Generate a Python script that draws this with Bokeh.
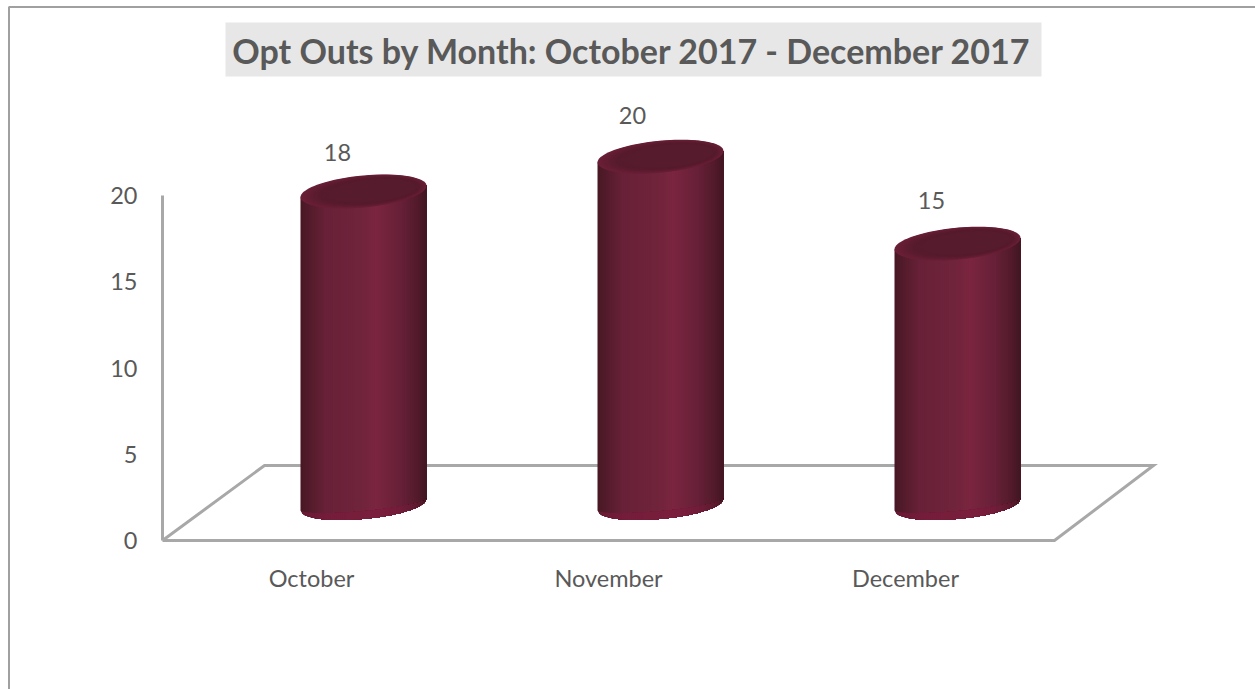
import numpy as np
from bokeh.core.properties import value
from bokeh.embed import file_html
from bokeh.models import ColumnDataSource, Range1d
from bokeh.plotting import figure
from bokeh.resources import INLINE

months = ["October", "November", "December"]
opt_outs = [18, 20, 15]
y_ticks = [0, 5, 10, 15, 20]
title_text = "Opt Outs by Month: October 2017 - December 2017"

# Scales: one category step and one value unit, in screen pixels.
W, H = 1255, 689
PX_CAT = 297.0
PX_VAL = 17.25
X0_PX, Y0_PX = 363.0, 540.0


def dx(px):
    return px / PX_CAT


def dy(px):
    return px / PX_VAL


def sx(px):
    return (px - X0_PX) / PX_CAT


def sy(px):
    return (Y0_PX - px) / PX_VAL


p = figure(
    width=W, height=H, output_backend="svg", toolbar_location=None,
    x_range=Range1d(sx(0), sx(W)), y_range=Range1d(sy(H), sy(0)),
    min_border=0, outline_line_color=None, background_fill_color="white",
    border_fill_color="white",
)
p.axis.visible = False
p.grid.visible = False

FONT = value("Lato")
INK = "#595959"
RULE = "#a8a8a8"
LABEL_SIZE = "23.5px"

# Outer frame: only the top and left edges are visible.
p.line([sx(8.5), sx(8.5), sx(W)], [sy(H), sy(6.5), sy(6.5)], line_color="#a0a0a0", line_width=2)

# Title on its grey band.
p.quad(left=[sx(225)], right=[sx(1041)], bottom=[sy(76)], top=[sy(22)],
       fill_color="#e7e7e7", line_color=None)
p.text(x=[sx(631.5)], y=[sy(50)], text=[title_text], text_font=FONT, text_font_style="bold",
       text_font_size="34px", text_color=INK, text_align="center", text_baseline="middle")

# Value axis and the slanted floor of the chart box.
p.line([sx(162), sx(162)], [sy(195), 0], line_color=RULE, line_width=3)
floor_x = [sx(162), sx(1054), sx(1153), sx(264), sx(162)]
floor_y = [0, 0, sy(465), sy(465), 0]
p.line(floor_x, floor_y, line_color=RULE, line_width=3, line_join="miter")

# Axis labels.
p.text(x=[sx(137)] * len(y_ticks), y=y_ticks, text=[str(t) for t in y_ticks], text_font=FONT,
       text_font_size=LABEL_SIZE, text_color=INK, text_align="right", text_baseline="middle")
p.text(x=[i - dx(52) for i in range(len(months))], y=[sy(577)] * len(months), text=months,
       text_font=FONT, text_font_size=LABEL_SIZE, text_color=INK, text_align="center",
       text_baseline="middle")

# Cylinder geometry, in pixels, projected onto the data scales.
HALF_W = 63.0
MINOR = 14.5
TOP_MINOR = 16.0
SKEW = 0.09
BASE_LIFT = 36.0
DEPTH = 17.39 / PX_VAL

pos = np.array([0.0, 0.2, 0.48, 0.6, 0.8, 0.93, 1.0])
shade = np.array([
    [0x48, 0x18, 0x24], [0x68, 0x21, 0x38], [0x70, 0x24, 0x3b], [0x7b, 0x25, 0x40],
    [0x66, 0x20, 0x37], [0x52, 0x1a, 0x2b], [0x40, 0x16, 0x21],
], dtype=float)
RIM_RED = [0x7c, 0x1a, 0x3c]


def to_hex(rgb):
    return "#%02x%02x%02x" % tuple(int(round(c)) for c in rgb)


def body_color(t):
    return [np.interp(t, pos, shade[:, k]) for k in range(3)]


def mix(a, b, f):
    return [a[k] * (1 - f) + b[k] * f for k in range(3)]


def arc(u, scale=1.0):
    return scale * MINOR * np.sqrt(np.clip(1 - (u / HALF_W) ** 2, 0, 1))


xs, ys, cols = [], [], []
edges = np.linspace(-HALF_W, HALF_W, 64)
for i, v in enumerate(opt_outs):
    base = dy(BASE_LIFT)
    top = base + v * DEPTH

    # Each strip runs from its left edge to the far side, so the next one paints over it
    # and no background can show between neighbouring shades.
    for k in range(len(edges) - 1):
        u = edges[k:]
        t = (edges[k] + 1.0 + HALF_W) / (2 * HALF_W)
        low = base + dy(SKEW * u) - dy(arc(u))
        high = top + dy(SKEW * u)
        xs.append((i + dx(u)).tolist() + (i + dx(u[::-1])).tolist())
        ys.append(low.tolist() + high[::-1].tolist())
        cols.append(to_hex(body_color(t)))

    # A redder crescent along the bottom rim, in two steps that fade upward.
    for upper, strength in ((0.8, 0.28), (0.45, 0.6)):
        for k in range(len(edges) - 1):
            u = edges[k:]
            t = (edges[k] + 1.0 + HALF_W) / (2 * HALF_W)
            low = base + dy(SKEW * u) - dy(arc(u))
            rim = base + dy(SKEW * u) - dy(arc(u, upper))
            xs.append((i + dx(u)).tolist() + (i + dx(u[::-1])).tolist())
            ys.append(low.tolist() + rim[::-1].tolist())
            cols.append(to_hex(mix(body_color(t), RIM_RED, strength * min(1.0, (1 - t) * 3.5 + 0.1))))

    # Top face as nested ellipses, from the lit rim to the dark centre.
    ang = np.linspace(0, 2 * np.pi, 90)
    for f, c in zip(np.linspace(1.0, 0.7, 14), np.linspace(0, 1, 14)):
        col = mix([0x6a, 0x1f, 0x37], [0x56, 0x1b, 0x2d], min(1.0, c * 1.5))
        u = HALF_W * f * np.cos(ang) + 28 * (1 - f)
        w = TOP_MINOR * f * np.sin(ang) + SKEW * HALF_W * f * np.cos(ang) + 2.5 * (1 - f)
        xs.append((i + dx(u)).tolist())
        ys.append((top + dy(w)).tolist())
        cols.append(to_hex(col))

cyl = ColumnDataSource(data=dict(xs=xs, ys=ys, color=cols))
p.patches("xs", "ys", source=cyl, fill_color="color", line_color=None)

# Value labels above each cylinder.
label_shift = [-26, -28, -26]
label_lift = [39, 41, 43]
p.text(x=[i + dx(s) for i, s in enumerate(label_shift)],
       y=[dy(BASE_LIFT) + v * DEPTH + dy(h) for v, h in zip(opt_outs, label_lift)],
       text=[str(v) for v in opt_outs], text_font=FONT, text_font_size=LABEL_SIZE, text_color=INK,
       text_align="center", text_baseline="middle")

open("out.html", "w").write(file_html(p, INLINE))
